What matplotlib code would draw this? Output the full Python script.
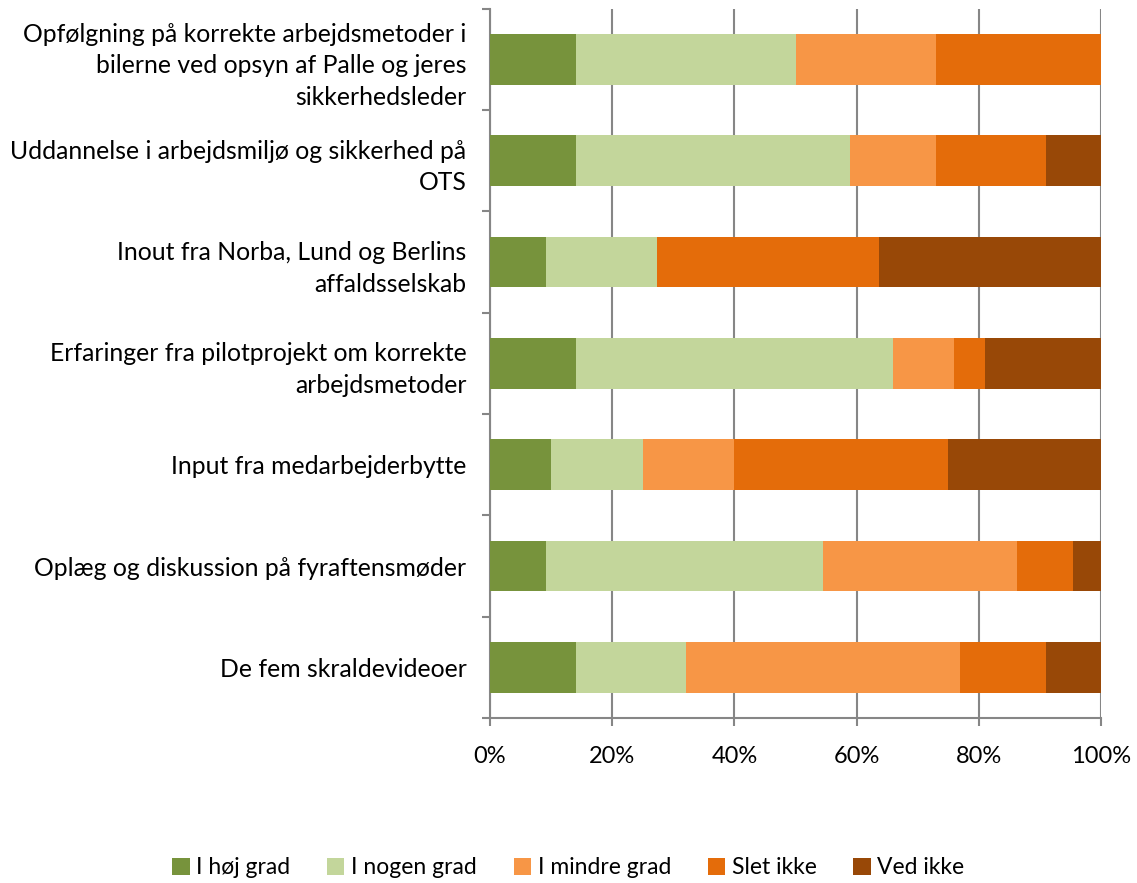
import matplotlib
matplotlib.use("Agg")
import matplotlib.pyplot as plt
import numpy as np

categories = [
    "Opfølgning på korrekte arbejdsmetoder i\nbilerne ved opsyn af Palle og jeres\nsikkerhedsleder",
    "Uddannelse i arbejdsmiljø og sikkerhed på\nOTS",
    "Inout fra Norba, Lund og Berlins\naffaldsselskab",
    "Erfaringer fra pilotprojekt om korrekte\narbejdsmetoder",
    "Input fra medarbejderbytte",
    "Oplæg og diskussion på fyraftensmøder",
    "De fem skraldevideoer",
]
series_names = ["I høj grad", "I nogen grad", "I mindre grad", "Slet ikke", "Ved ikke"]
hoej_grad   = [14, 14, 9.1, 14, 10, 9.1, 14]
nogen_grad  = [36, 45, 18.2, 52, 15, 45.4, 18]
mindre_grad = [23, 14, 0, 10, 15, 31.8, 45]
slet_ikke   = [27, 18, 36.35, 5, 35, 9.1, 14]
ved_ikke    = [0, 9, 36.35, 19, 25, 4.6, 9]
colors = ["#77933C", "#C3D69B", "#F79646", "#E46C0A", "#984807"]
xticks = [0, 20, 40, 60, 80, 100]
xticklabels = ["0%", "20%", "40%", "60%", "80%", "100%"]

plt.rcParams['font.family'] = ['Lato', 'DejaVu Sans']

fig = plt.figure(figsize=(11.37, 8.83), dpi=100)
ax = fig.add_axes([490/1137, 1-718/883, (1101-490)/1137, (718-8.7)/883])

data = [hoej_grad, nogen_grad, mindre_grad, slet_ikke, ved_ikke]
y = np.arange(len(categories))
left = np.zeros(len(categories))
handles = []
for vals, name, c in zip(data, series_names, colors):
    vals = np.array(vals, dtype=float)
    h = ax.barh(y, vals, left=left, height=0.5, color=c, label=name, zorder=3)
    handles.append(h)
    left += vals

ax.set_xlim(0, 100)
ax.set_ylim(len(categories) - 0.5, -0.5)
ax.set_xticks(xticks)
ax.set_xticklabels(xticklabels, fontsize=17)
ax.set_yticks(y)
ax.set_yticklabels(categories, fontsize=17.8, linespacing=1.45)
ax.tick_params(axis='y', length=0, pad=17)
ax.set_yticks(np.arange(-0.5, len(categories), 1), minor=True)
ax.tick_params(axis='y', which='minor', length=6, color='#868686', width=1.5)
ax.tick_params(axis='x', length=6, color='#868686', width=1.5, pad=14)
ax.grid(axis='x', color='#868686', linewidth=1.5, zorder=0)
for s in ['top', 'right']:
    ax.spines[s].set_visible(False)
for s in ['left', 'bottom']:
    ax.spines[s].set_color('#868686')
    ax.spines[s].set_linewidth(1.5)

fig.legend(handles=handles, labels=series_names, loc='center', bbox_to_anchor=(0.5, 1-868/883),
           ncol=5, frameon=False, fontsize=16.5, handlelength=0.75, handleheight=0.75,
           handletextpad=0.3, columnspacing=1.6)

fig.savefig("out.png", dpi=100)
